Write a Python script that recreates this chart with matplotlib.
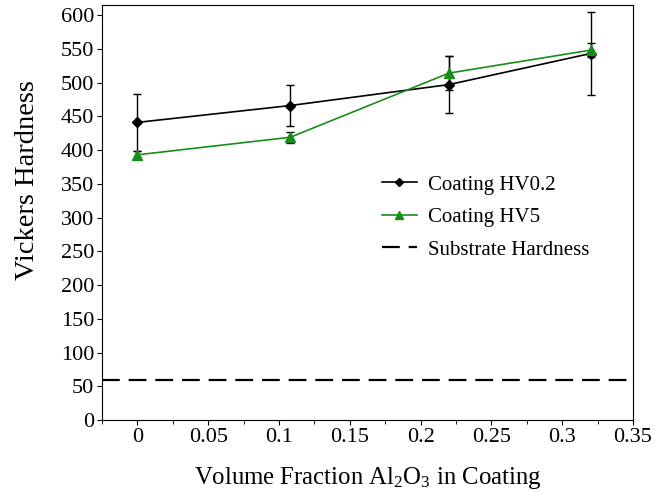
import matplotlib
matplotlib.use("Agg")
import matplotlib.pyplot as plt
from matplotlib.ticker import MultipleLocator

vf = [0.0, 0.108, 0.22, 0.32]
hv02 = [441, 466, 497, 543]
hv02_err = [42, 30, 42, 62]
hv5 = [393, 419, 514, 548]
hv5_err = [5, 8, 25, 10]
substrate = 60

plt.rcParams['font.family'] = ['Liberation Serif', 'DejaVu Serif']
plt.rcParams['mathtext.fontset'] = 'custom'
plt.rcParams['mathtext.rm'] = 'Liberation Serif'
plt.rcParams['mathtext.it'] = 'Liberation Serif:italic'

green = '#1a8c1a'
fig = plt.figure(figsize=(6.58, 4.92), dpi=100)
ax = fig.add_axes([0.155, 0.146, 0.807, 0.844])

ax.errorbar(vf, hv02, yerr=hv02_err, fmt='none', ecolor='black', capsize=3, elinewidth=1.0)
ax.errorbar(vf, hv5, yerr=hv5_err, fmt='none', ecolor='black', capsize=3, elinewidth=1.0)
ax.plot(vf, hv02, color='black', marker='D', markersize=5.5, linewidth=1.2, label='Coating HV0.2')
ax.plot(vf, hv5, color=green, marker='^', markersize=6.5, linewidth=1.2, label='Coating HV5')
ax.axhline(substrate, color='black', linestyle=(0, (8, 4)), linewidth=1.6, label='Substrate Hardness')

ax.set_xlim(-0.025, 0.35)
ax.set_ylim(0, 615)
ax.set_xticks([0, 0.05, 0.1, 0.15, 0.2, 0.25, 0.3, 0.35])
ax.set_xticklabels(['0', '0.05', '0.1', '0.15', '0.2', '0.25', '0.3', '0.35'])
ax.xaxis.set_minor_locator(MultipleLocator(0.025))
ax.yaxis.set_major_locator(MultipleLocator(50))
ax.tick_params(axis='both', labelsize=16, direction='out', pad=2)
ax.tick_params(which='minor', length=3)
ax.set_xlabel('Volume Fraction Al$_2$O$_3$ in Coating', fontsize=17.8)
ax.xaxis.set_label_coords(0.5, -0.108)
ax.set_ylabel('Vickers Hardness', fontsize=20.5)
ax.yaxis.set_label_coords(-0.117, 0.578)
ax.legend(loc='upper left', bbox_to_anchor=(0.511, 0.61), frameon=False, fontsize=15,
          handlelength=1.7, handletextpad=0.5, labelspacing=0.62, borderaxespad=0,
          markerscale=0.8)
fig.savefig('out.png', dpi=100)
